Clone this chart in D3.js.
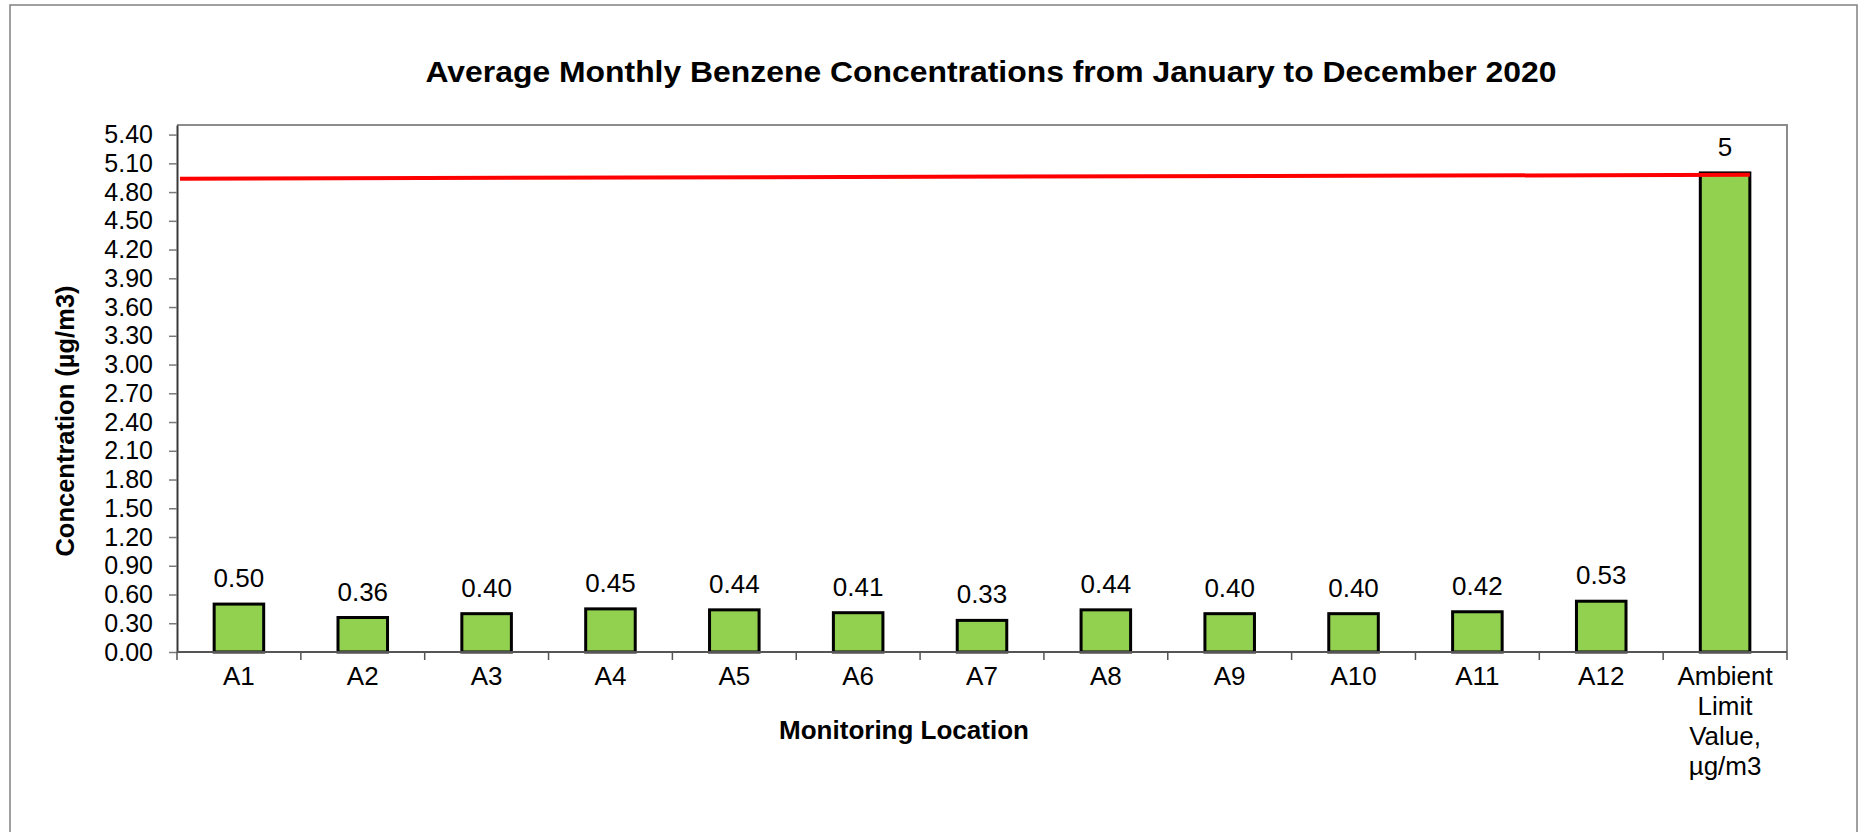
<!DOCTYPE html>
<html>
<head>
<meta charset="utf-8">
<script src="https://cdn.jsdelivr.net/npm/d3@7"></script>
<style>
  body { margin: 0; background: #fff; }
  svg text { font-family: "Liberation Sans", Arial, sans-serif; fill: #000; }
</style>
</head>
<body>
<div class="chart"></div>
<script>
var svgWidth = 1870;
var svgHeight = 832;

// chart data
var locations = ["A1", "A2", "A3", "A4", "A5", "A6", "A7", "A8", "A9", "A10", "A11", "A12", "Ambient Limit Value, µg/m3"];
var concentrations = [0.50, 0.36, 0.40, 0.45, 0.44, 0.41, 0.33, 0.44, 0.40, 0.40, 0.42, 0.53, 5];
var valueLabels = ["0.50", "0.36", "0.40", "0.45", "0.44", "0.41", "0.33", "0.44", "0.40", "0.40", "0.42", "0.53", "5"];
var yTicks = [0, 0.3, 0.6, 0.9, 1.2, 1.5, 1.8, 2.1, 2.4, 2.7, 3.0, 3.3, 3.6, 3.9, 4.2, 4.5, 4.8, 5.1, 5.4];
var limitLine = [4.94, 4.98];

var plot = { left: 177, right: 1787, top: 125, bottom: 652 };

var svg = d3.select(".chart")
  .append("svg")
  .attr("width", svgWidth)
  .attr("height", svgHeight);

// outer frame
svg.append("rect")
  .attr("x", 10).attr("y", 5)
  .attr("width", 1847).attr("height", 840)
  .attr("fill", "none")
  .attr("stroke", "#808080")
  .attr("stroke-width", 1.5);

var xScale = d3.scaleBand()
  .domain(locations)
  .range([plot.left, plot.right])
  .paddingInner(0.6)
  .paddingOuter(0.3);

var yScale = d3.scaleLinear()
  .domain([0, 5.5])
  .range([plot.bottom, plot.top]);

// plot area border (top + right)
svg.append("path")
  .attr("d", `M${plot.left},${plot.top}H${plot.right}V${plot.bottom}`)
  .attr("fill", "none")
  .attr("stroke", "#8c8c8c")
  .attr("stroke-width", 2);

// y axis
var leftAxis = d3.axisLeft(yScale)
  .tickValues(yTicks)
  .tickFormat(d => d.toFixed(2))
  .tickSize(8)
  .tickPadding(16)
  .tickSizeOuter(0);

var yAxis = svg.append("g")
  .attr("transform", `translate(${plot.left},0)`)
  .call(leftAxis);
yAxis.select(".domain").attr("stroke", "#3a3a3a").attr("stroke-width", 2);
yAxis.selectAll(".tick line").attr("stroke", "#7a7a7a").attr("stroke-width", 1.5);
yAxis.selectAll(".tick text")
  .attr("font-size", "25px")
  .attr("font-family", "Liberation Sans, Arial, sans-serif")
  .attr("fill", "#000");

// bars
svg.selectAll(".bar")
  .data(concentrations)
  .enter()
  .append("rect")
  .attr("class", "bar")
  .attr("x", (d, i) => xScale(locations[i]))
  .attr("y", d => yScale(d))
  .attr("width", xScale.bandwidth())
  .attr("height", d => yScale(0) - yScale(d))
  .attr("fill", "#92d050")
  .attr("stroke", "#000")
  .attr("stroke-width", 3);

// x axis line + category boundary ticks
svg.append("line")
  .attr("x1", plot.left).attr("x2", plot.right)
  .attr("y1", plot.bottom).attr("y2", plot.bottom)
  .attr("stroke", "#555")
  .attr("stroke-width", 2);

var step = xScale.step();
svg.selectAll(".xtick")
  .data(d3.range(locations.length + 1))
  .enter()
  .append("line")
  .attr("class", "xtick")
  .attr("x1", i => plot.left + i * step)
  .attr("x2", i => plot.left + i * step)
  .attr("y1", plot.bottom)
  .attr("y2", plot.bottom + 8)
  .attr("stroke", "#555")
  .attr("stroke-width", 1.5);

// category labels (wrap the long one)
var wrapped = {
  "Ambient Limit Value, µg/m3": ["Ambient", "Limit", "Value,", "µg/m3"]
};
var xLabels = svg.selectAll(".xlabel")
  .data(locations)
  .enter()
  .append("text")
  .attr("class", "xlabel")
  .attr("x", d => xScale(d) + xScale.bandwidth() / 2)
  .attr("y", 685)
  .attr("text-anchor", "middle")
  .attr("font-size", "26px");

xLabels.each(function (d) {
  var lines = wrapped[d] || [d];
  var t = d3.select(this);
  lines.forEach(function (line, j) {
    t.append("tspan")
      .attr("x", xScale(d) + xScale.bandwidth() / 2)
      .attr("dy", j === 0 ? 0 : 30)
      .text(line);
  });
});

// value labels
svg.selectAll(".vlabel")
  .data(concentrations)
  .enter()
  .append("text")
  .attr("class", "vlabel")
  .attr("x", (d, i) => xScale(locations[i]) + xScale.bandwidth() / 2)
  .attr("y", d => yScale(d) - 17)
  .attr("text-anchor", "middle")
  .attr("font-size", "26px")
  .text((d, i) => valueLabels[i]);

// limit line
var last = locations[locations.length - 1];
svg.append("line")
  .attr("x1", plot.left + 3)
  .attr("x2", xScale(last) + xScale.bandwidth())
  .attr("y1", yScale(limitLine[0]))
  .attr("y2", yScale(limitLine[1]))
  .attr("stroke", "#ff0000")
  .attr("stroke-width", 4);

// title
svg.append("text")
  .attr("x", 991)
  .attr("y", 82)
  .attr("text-anchor", "middle")
  .attr("font-size", "30px")
  .attr("font-weight", "bold")
  .attr("textLength", 1131)
  .attr("lengthAdjust", "spacingAndGlyphs")
  .text("Average Monthly Benzene Concentrations from January to December 2020");

// axis titles
svg.append("text")
  .attr("transform", "rotate(-90)")
  .attr("x", -421)
  .attr("y", 74)
  .attr("text-anchor", "middle")
  .attr("font-size", "25.5px")
  .attr("font-weight", "bold")
  .text("Concentration (µg/m3)");

svg.append("text")
  .attr("x", 904)
  .attr("y", 739)
  .attr("text-anchor", "middle")
  .attr("font-size", "26px")
  .attr("font-weight", "bold")
  .text("Monitoring Location");
</script>
</body>
</html>
